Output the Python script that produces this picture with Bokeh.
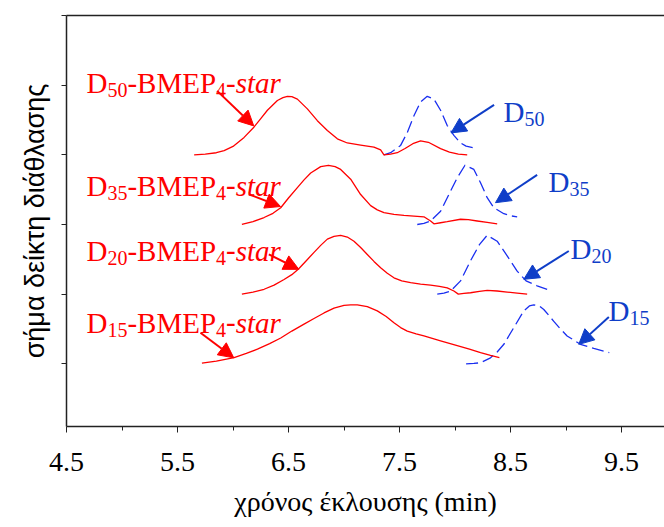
from bokeh.plotting import figure
from bokeh.models import Label, Arrow, NormalHead, FixedTicker, LinearAxis, Range1d, Title
from bokeh.embed import file_html
from bokeh.resources import INLINE

# ---------------- data ----------------
x_ticks = [4.5, 5.5, 6.5, 7.5, 8.5, 9.5]
x_minor = [5.0, 6.0, 7.0, 8.0, 9.0]
y_ticks = [1, 2, 3, 4, 5, 6]

# star polymers (red, solid) - x: elution time (min), h: signal above baseline
d50_star_x = [5.65, 5.75, 5.85, 5.92, 6.00, 6.10, 6.19, 6.25, 6.31, 6.40, 6.45, 6.49, 6.53, 6.58, 6.67, 6.76,
              6.85, 6.94, 7.03, 7.15, 7.27, 7.33, 7.36, 7.42, 7.48, 7.55, 7.62, 7.69, 7.76, 7.87, 7.95, 8.03, 8.11]
d50_star_h = [0.00, 0.01, 0.03, 0.06, 0.12, 0.25, 0.40, 0.52, 0.64, 0.78, 0.82, 0.84, 0.835, 0.80, 0.66, 0.49,
              0.35, 0.23, 0.17, 0.14, 0.11, 0.07, 0.00, 0.01, 0.03, 0.09, 0.16, 0.20, 0.18, 0.09, 0.04, 0.01, 0.00]

d35_star_x = [6.08, 6.18, 6.28, 6.36, 6.43, 6.50, 6.58, 6.64, 6.70, 6.79, 6.86, 6.92, 6.97, 7.06, 7.15, 7.24,
              7.30, 7.36, 7.45, 7.54, 7.63, 7.72, 7.78, 7.81, 7.87, 7.93, 8.05, 8.12, 8.20, 8.29, 8.38]
d35_star_h = [0.00, 0.04, 0.10, 0.16, 0.24, 0.38, 0.53, 0.64, 0.74, 0.83, 0.85, 0.83, 0.79, 0.65, 0.43, 0.27,
              0.21, 0.17, 0.145, 0.13, 0.12, 0.11, 0.05, 0.01, 0.025, 0.04, 0.075, 0.07, 0.05, 0.03, 0.01]

d20_star_x = [6.08, 6.18, 6.28, 6.37, 6.46, 6.53, 6.59, 6.66, 6.73, 6.79, 6.85, 6.91, 6.97, 7.03, 7.09, 7.15,
              7.21, 7.27, 7.33, 7.39, 7.45, 7.52, 7.60, 7.69, 7.78, 7.86, 7.93, 7.99, 8.03, 8.08, 8.14, 8.22,
              8.29, 8.38, 8.47, 8.56, 8.65]
d20_star_h = [0.00, 0.03, 0.07, 0.13, 0.21, 0.28, 0.36, 0.48, 0.60, 0.70, 0.79, 0.83, 0.845, 0.82, 0.76, 0.67,
              0.57, 0.47, 0.38, 0.30, 0.235, 0.19, 0.165, 0.145, 0.13, 0.11, 0.09, 0.045, 0.00, 0.01, 0.02, 0.04,
              0.055, 0.045, 0.03, 0.015, 0.00]

d15_star_x = [5.72, 5.85, 6.01, 6.12, 6.22, 6.33, 6.43, 6.53, 6.64, 6.73, 6.82, 6.91, 7.00, 7.06, 7.12, 7.21,
              7.30, 7.38, 7.45, 7.51, 7.57, 7.65, 7.72, 7.87, 8.02, 8.13, 8.23, 8.32, 8.40]
d15_star_h = [0.01, 0.04, 0.09, 0.15, 0.21, 0.29, 0.37, 0.47, 0.57, 0.65, 0.73, 0.80, 0.84, 0.845, 0.845, 0.82,
              0.76, 0.68, 0.59, 0.52, 0.47, 0.43, 0.40, 0.33, 0.26, 0.21, 0.16, 0.12, 0.09]

# linear precursors (blue, dashed)
d50_lin_x = [7.36, 7.42, 7.51, 7.57, 7.63, 7.69, 7.75, 7.81, 7.87, 7.93, 7.99, 8.05, 8.10, 8.17]
d50_lin_h = [0.00, 0.03, 0.135, 0.32, 0.56, 0.76, 0.84, 0.80, 0.64, 0.42, 0.28, 0.17, 0.125, 0.10]

d35_lin_x = [7.66, 7.72, 7.78, 7.87, 7.96, 8.02, 8.09, 8.17, 8.23, 8.29, 8.35, 8.44, 8.50, 8.56]
d35_lin_h = [0.00, 0.015, 0.05, 0.19, 0.48, 0.67, 0.85, 0.79, 0.60, 0.385, 0.24, 0.155, 0.125, 0.11]

d20_lin_x = [7.84, 7.90, 7.96, 8.05, 8.14, 8.22, 8.29, 8.38, 8.47, 8.56, 8.64, 8.74, 8.83]
d20_lin_h = [0.00, 0.015, 0.045, 0.19, 0.48, 0.71, 0.845, 0.76, 0.55, 0.33, 0.19, 0.12, 0.07]

d15_lin_x = [8.10, 8.17, 8.23, 8.32, 8.38, 8.44, 8.53, 8.62, 8.67, 8.71, 8.76, 8.80, 8.89, 8.95, 9.01, 9.13,
             9.25, 9.39]
d15_lin_h = [0.00, 0.005, 0.015, 0.086, 0.17, 0.28, 0.52, 0.76, 0.83, 0.845, 0.83, 0.78, 0.61, 0.50, 0.40, 0.28,
             0.22, 0.16]

baselines = {"50": 4, "35": 3, "20": 2, "15": 1}
names = ["50", "35", "20", "15"]
x_title = "χρόνος έκλουσης (min)"
y_title = "σήμα δείκτη διάθλασης"

RED = "#ff0000"
BLUE_LINE = "#1a2ff0"
BLUE = "#0f3ec8"
SERIF = "'Liberation Serif'"
SANS = "'Liberation Sans'"

p = figure(width=664, height=527, x_range=Range1d(4.5, 4.5 + 598 / 111), y_range=Range1d(0.1, 6.0),
           output_backend="svg", toolbar_location=None,
           min_border_left=66, min_border_right=0, min_border_top=15, min_border_bottom=101)
p.outline_line_color = None
p.grid.visible = False
p.background_fill_color = "white"
p.border_fill_color = "white"

# x axis
xa = p.xaxis[0]
xa.ticker = FixedTicker(ticks=x_ticks, minor_ticks=x_minor)
xa.major_tick_out = 6
xa.major_tick_in = 0
xa.minor_tick_out = 4
xa.minor_tick_in = 0
xa.axis_line_width = 1.5
xa.axis_line_color = "#222222"
xa.major_tick_line_color = "#222222"
xa.minor_tick_line_color = "#222222"
xa.major_label_text_font = SERIF
xa.major_label_text_font_size = "28px"
xa.major_label_text_color = "black"
xa.major_label_standoff = 20

# x axis title, as a title panel below the axis
p.add_layout(Title(text=x_title, align="center", standoff=21, text_font=SERIF,
                   text_font_size="28px", text_font_style="normal", text_color="black"), "below")

# y axis
ya = p.yaxis[0]
ya.ticker = FixedTicker(ticks=y_ticks, minor_ticks=[])
ya.major_tick_out = 5
ya.major_tick_in = 0
ya.minor_tick_line_color = None
ya.major_label_overrides = {t: "" for t in y_ticks}
ya.major_label_text_font_size = "10px"
ya.major_label_standoff = 0
ya.axis_line_width = 1.5
ya.axis_line_color = "#222222"
ya.major_tick_line_color = "#222222"
ya.axis_label = y_title
ya.axis_label_text_font = SANS
ya.axis_label_text_font_size = "27px"
ya.axis_label_text_font_style = "normal"
ya.axis_label_text_color = "black"
ya.axis_label_standoff = 12

# top frame line
top = LinearAxis(ticker=FixedTicker(ticks=[]), major_tick_out=0, major_tick_in=0, minor_tick_out=0,
                 minor_tick_in=0, major_label_standoff=0,
                 axis_line_width=1.5, axis_line_color="#222222")
p.add_layout(top, "above")

star_x = {"50": d50_star_x, "35": d35_star_x, "20": d20_star_x, "15": d15_star_x}
star_h = {"50": d50_star_h, "35": d35_star_h, "20": d20_star_h, "15": d15_star_h}
lin_x = {"50": d50_lin_x, "35": d35_lin_x, "20": d20_lin_x, "15": d15_lin_x}
lin_h = {"50": d50_lin_h, "35": d35_lin_h, "20": d20_lin_h, "15": d15_lin_h}

for n in names:
    b = baselines[n]
    p.line(lin_x[n], [b + v for v in lin_h[n]], line_color=BLUE_LINE, line_width=1.3,
           line_dash="12 5", line_join="round")
    p.line(star_x[n], [b + v for v in star_h[n]], line_color=RED, line_width=1.3, line_join="round")

# ---- red labels: D_nn-BMEP_4-star ----
red_lab_pos = {"50": (4.68, 5.026), "35": (4.68, 3.553), "20": (4.68, 2.62), "15": (4.68, 1.59)}
S, s = 29, 20
for n in names:
    x0, y0 = red_lab_pos[n]
    pieces = [
        ("D", 0, 0, S, "normal"),
        (n, 0.722 * S, -7, s, "normal"),
        ("-BMEP", 0.722 * S + s, 0, S, "normal"),
        ("4", 0.722 * S + s + 3.056 * S, -7, s, "normal"),
        ("-", 0.722 * S + s + 3.056 * S + 0.5 * s, 0, S, "normal"),
        ("star", 0.722 * S + s + 3.389 * S + 0.5 * s, 0, S, "italic"),
    ]
    for txt, dx, dy, fs, st in pieces:
        p.add_layout(Label(x=x0, y=y0, x_offset=dx, y_offset=dy, text=txt, text_font=SERIF,
                           text_font_size=f"{fs}px", text_font_style=st, text_color=RED,
                           text_baseline="alphabetic", text_align="left"))

# ---- blue labels: D_nn ----
blue_lab_pos = {"50": (8.437, 4.616), "35": (8.842, 3.611), "20": (9.04, 2.648), "15": (9.383, 1.757)}
for n in names:
    x0, y0 = blue_lab_pos[n]
    p.add_layout(Label(x=x0, y=y0, text="D", text_font=SERIF, text_font_size=f"{S}px",
                       text_color=BLUE, text_baseline="alphabetic"))
    p.add_layout(Label(x=x0, y=y0, x_offset=0.722 * S, y_offset=-7, text=n, text_font=SERIF,
                       text_font_size=f"{s}px", text_color=BLUE, text_baseline="alphabetic"))

# ---- arrows ----
red_arrows = [(5.857, 4.918, 6.187, 4.415), (6.142, 3.434, 6.428, 3.258),
              (6.323, 2.572, 6.593, 2.356), (5.707, 1.445, 6.007, 1.086)]
blue_arrows = [(8.352, 4.717, 7.964, 4.315), (8.74, 3.711, 8.365, 3.313),
               (9.025, 2.619, 8.62, 2.213), (9.386, 1.671, 9.115, 1.279)]
for (xs, ys, xe, ye) in red_arrows:
    p.add_layout(Arrow(end=NormalHead(size=15, fill_color=RED, line_color=RED, line_width=1),
                       x_start=xs, y_start=ys, x_end=xe, y_end=ye, line_color=RED, line_width=2))
for (xs, ys, xe, ye) in blue_arrows:
    p.add_layout(Arrow(end=NormalHead(size=15, fill_color=BLUE, line_color=BLUE, line_width=1),
                       x_start=xs, y_start=ys, x_end=xe, y_end=ye, line_color=BLUE, line_width=2))

open("out.html", "w").write(file_html(p, INLINE))
